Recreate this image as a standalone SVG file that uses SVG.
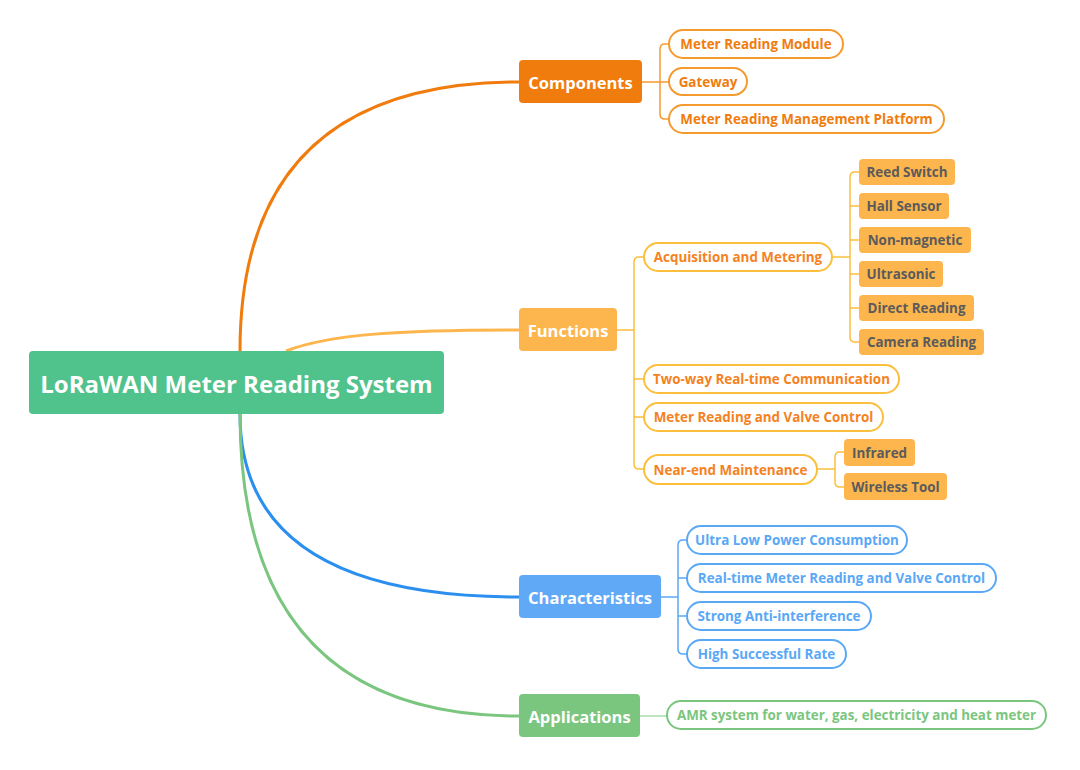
<svg xmlns="http://www.w3.org/2000/svg" width="1080" height="770" viewBox="0 0 1080 770">
<style>
text{font-family:"Open Sans","Noto Sans","Liberation Sans",sans-serif;font-weight:700;dominant-baseline:central;text-anchor:middle}
.main{fill:#fff;font-size:16.5px}
.root{fill:#fff;font-size:24px}
.sub{font-size:13.4px}
.pill{fill:#fff;stroke-width:2}
.br{fill:none;stroke-width:1.5}
.gc{fill:#fdb54d}
.gct{fill:#5b5b5b;font-size:13.4px}
</style>
<g id="connectors" fill="none">
<path d="M240,351 Q240,82 519,82" stroke="#f07c0e" stroke-width="3"/>
<path d="M286,351 C330,334 400,330 519,330" stroke="#fdb54d" stroke-width="3"/>
<path d="M240,414 Q240,597 519,597" stroke="#2b8fef" stroke-width="3"/>
<path d="M240,414 Q240,716 519,716" stroke="#7bc67e" stroke-width="3"/>
<g class="br" stroke="#f59a2e">
<path d="M642,82 H669"/>
<path d="M669,44 H665 Q660,44 660,49 V114 Q660,119 665,119 H669"/>
</g>
<g class="br" stroke="#fbbf3c">
<path d="M617,330 H634"/>
<path d="M644,257 H639 Q634,257 634,262 V464 Q634,469 639,469 H644"/>
<path d="M634,379 H644 M634,417 H644"/>
<path d="M832,257 H850"/>
<path d="M859,172 H855 Q850,172 850,177 V337 Q850,342 855,342 H859"/>
<path d="M850,206 H859 M850,240 H859 M850,274 H859 M850,308 H859"/>
<path d="M817,469 H835"/>
<path d="M844,452 H840 Q835,452 835,457 V482 Q835,487 840,487 H844"/>
</g>
<g class="br" stroke="#5aa8f5">
<path d="M661,597 H678"/>
<path d="M687,540 H683 Q678,540 678,545 V649 Q678,654 683,654 H687"/>
<path d="M678,578 H687 M678,616 H687"/>
</g>
<path class="br" d="M640,716 H667" stroke="#a9dcaa"/>
</g>
<g id="root">
<rect x="29" y="351" width="415" height="63" rx="4" fill="#50c28c"/>
<text class="root" x="236.5" y="383">LoRaWAN Meter Reading System</text>
</g>
<g id="components">
<rect x="519" y="60" width="123" height="43" rx="4" fill="#f07c0e"/>
<text class="main" x="580.5" y="82">Components</text>
</g>
<g id="comp-children">
<g id="c1"><rect class="pill" x="669" y="30" width="174" height="28" rx="14" stroke="#f59a2e"/><text class="sub" x="756" y="44" fill="#f07c0e">Meter Reading Module</text></g>
<g id="c2"><rect class="pill" x="669" y="68" width="78" height="27" rx="13.5" stroke="#f59a2e"/><text class="sub" x="708" y="81.5" fill="#f07c0e">Gateway</text></g>
<g id="c3"><rect class="pill" x="669" y="105" width="275" height="28" rx="14" stroke="#f59a2e"/><text class="sub" x="806.5" y="119" fill="#f07c0e">Meter Reading Management Platform</text></g>
</g>
<g id="functions">
<rect x="519" y="308" width="98" height="43" rx="4" fill="#fdb54d"/>
<text class="main" x="568" y="330">Functions</text>
</g>
<g id="func-children">
<g id="f1"><rect class="pill" x="644" y="243" width="188" height="28" rx="14" stroke="#fbbf3c"/><text class="sub" x="738" y="257" fill="#f5821f">Acquisition and Metering</text></g>
<g id="f2"><rect class="pill" x="644" y="365" width="255" height="28" rx="14" stroke="#fbbf3c"/><text class="sub" x="771.5" y="379" fill="#f5821f">Two-way Real-time Communication</text></g>
<g id="f3"><rect class="pill" x="644" y="403" width="239" height="28" rx="14" stroke="#fbbf3c"/><text class="sub" x="763.5" y="417" fill="#f5821f">Meter Reading and Valve Control</text></g>
<g id="f4"><rect class="pill" x="644" y="455" width="173" height="29" rx="14.5" stroke="#fbbf3c"/><text class="sub" x="730.5" y="469.5" fill="#f5821f">Near-end Maintenance</text></g>
</g>
<g id="acq-children">
<g id="a1"><rect class="gc" x="859" y="159" width="96" height="26" rx="4"/><text class="gct" x="907" y="172">Reed Switch</text></g>
<g id="a2"><rect class="gc" x="859" y="193" width="90" height="26" rx="4"/><text class="gct" x="904" y="206">Hall Sensor</text></g>
<g id="a3"><rect class="gc" x="859" y="227" width="112" height="26" rx="4"/><text class="gct" x="915" y="240">Non-magnetic</text></g>
<g id="a4"><rect class="gc" x="859" y="261" width="84" height="26" rx="4"/><text class="gct" x="901" y="274">Ultrasonic</text></g>
<g id="a5"><rect class="gc" x="859" y="295" width="115" height="26" rx="4"/><text class="gct" x="916.5" y="308">Direct Reading</text></g>
<g id="a6"><rect class="gc" x="859" y="329" width="125" height="26" rx="4"/><text class="gct" x="921.5" y="342">Camera Reading</text></g>
</g>
<g id="near-children">
<g id="n1"><rect class="gc" x="844" y="439" width="71" height="27" rx="4"/><text class="gct" x="879.5" y="452.5">Infrared</text></g>
<g id="n2"><rect class="gc" x="844" y="473" width="103" height="27" rx="4"/><text class="gct" x="895.5" y="486.5">Wireless Tool</text></g>
</g>
<g id="characteristics">
<rect x="519" y="575" width="142" height="43" rx="4" fill="#60a9f6"/>
<text class="main" x="590" y="597">Characteristics</text>
</g>
<g id="char-children">
<g id="ch1"><rect class="pill" x="687" y="526" width="220" height="28" rx="14" stroke="#5aa8f5"/><text class="sub" x="797" y="540" fill="#5aa8f5">Ultra Low Power Consumption</text></g>
<g id="ch2"><rect class="pill" x="687" y="564" width="309" height="28" rx="14" stroke="#5aa8f5"/><text class="sub" x="841.5" y="578" fill="#5aa8f5">Real-time Meter Reading and Valve Control</text></g>
<g id="ch3"><rect class="pill" x="687" y="602" width="184" height="28" rx="14" stroke="#5aa8f5"/><text class="sub" x="779" y="616" fill="#5aa8f5">Strong Anti-interference</text></g>
<g id="ch4"><rect class="pill" x="687" y="640" width="159" height="28" rx="14" stroke="#5aa8f5"/><text class="sub" x="766.5" y="654" fill="#5aa8f5">High Successful Rate</text></g>
</g>
<g id="applications">
<rect x="519" y="694" width="121" height="43" rx="4" fill="#7bc67e"/>
<text class="main" x="579.5" y="716">Applications</text>
</g>
<g id="app-children">
<g id="ap1"><rect class="pill" x="667" y="701" width="379" height="28" rx="14" stroke="#7bc67e"/><text class="sub" x="856.5" y="715" fill="#7bc67e">AMR system for water, gas, electricity and heat meter</text></g>
</g>
</svg>
